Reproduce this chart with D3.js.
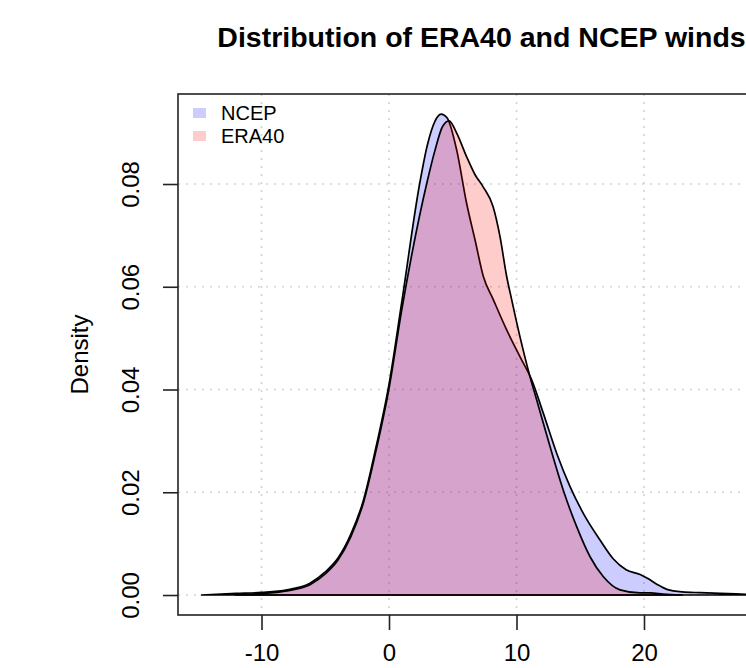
<!DOCTYPE html>
<html>
<head>
<meta charset="utf-8">
<script src="https://cdn.jsdelivr.net/npm/d3@7/dist/d3.min.js"></script>
<style>
  html, body { margin: 0; padding: 0; background: #fff; overflow: hidden; }
  svg { display: block; }
</style>
</head>
<body>
<div id="chart"></div>
<script>
// Density curves of ERA40 vs NCEP winds.
const NCEP_X = [-14.7, -12, -10, -8, -6.2, -5, -4, -3, -2, -1.0, 0, 1.0, 2.4, 3.0, 3.6, 4.08, 4.55,
  5.31, 6.09, 6.75, 7.4, 8.18, 9.23, 10.27, 11.19, 12.1, 13.15, 14.2, 15.24, 16.55, 17.6, 18.6, 19.7, 20.3, 21.0, 21.8,
  23.0, 24.4, 26, 28, 30];
const NCEP_D = [0, 0.0003, 0.0005, 0.001, 0.0023, 0.0045, 0.0072, 0.0118, 0.0185, 0.029, 0.041, 0.057, 0.08,
  0.0875, 0.0922, 0.0936, 0.0929, 0.0866, 0.0762, 0.0691, 0.062, 0.0575, 0.0516, 0.0464, 0.0419, 0.0354, 0.0276, 0.0211,
  0.0159, 0.0107, 0.007, 0.0049, 0.004, 0.0032, 0.0021, 0.0011, 0.0006, 0.00045, 0.0003, 0.00015, 0];

const ERA_X = [-12, -10, -8, -6.2, -5, -4, -3, -2, -1.0, 0, 1.0, 2.95, 3.6, 4.2, 4.71, 5.31, 6.09,
  6.75, 7.37, 8.16, 8.71, 9.23, 9.62, 10.27, 11.06, 11.58, 12.63, 13.67, 14.72, 15.76, 16.8, 18.12, 19.7, 20.5, 21.5, 23];
const ERA_D = [0, 0.0003, 0.0008, 0.002, 0.0041, 0.0068, 0.0113, 0.018, 0.0283, 0.0402, 0.0555, 0.08, 0.0865,
  0.0912, 0.0923, 0.0899, 0.0853, 0.0818, 0.0795, 0.0756, 0.0697, 0.062, 0.0575, 0.0503, 0.0425, 0.038, 0.0289, 0.0204,
  0.0133, 0.0075, 0.0036, 0.001, 0.0004, 0.0004, 0.0002, 0];

const X_TICKS = [-10, 0, 10, 20];
const Y_TICKS = [0, 0.02, 0.04, 0.06, 0.08];
const LEGEND_LABELS = ['NCEP', 'ERA40'];

const W = 746, H = 668;
const BOX = { left: 178, right: 785, top: 94, bottom: 615 };
const FONT = 'Liberation Sans, Arial, Helvetica, sans-serif';
const BLUE_FILL = 'rgba(0,0,255,0.2)';
const RED_FILL = 'rgba(255,0,0,0.2)';

const svg = d3.select('#chart').append('svg')
  .attr('width', W).attr('height', H)
  .attr('viewBox', `0 0 ${W} ${H}`);

const x = d3.scaleLinear().domain([-16.55, 31.06]).range([BOX.left, BOX.right]);
const y = d3.scaleLinear().domain([-0.00389, 0.09752]).range([BOX.bottom, BOX.top]);

// dotted grid
const grid = svg.append('g').attr('stroke', '#d3d3d3').attr('stroke-width', 1.6)
  .attr('stroke-dasharray', '2,6');
grid.selectAll('line.v').data(X_TICKS).join('line').attr('class', 'v')
  .attr('x1', d => x(d)).attr('x2', d => x(d)).attr('y1', BOX.top).attr('y2', BOX.bottom);
grid.selectAll('line.h').data(Y_TICKS).join('line').attr('class', 'h')
  .attr('x1', BOX.left).attr('x2', BOX.right).attr('y1', d => y(d)).attr('y2', d => y(d));

const area = d3.area()
  .x(d => x(d[0])).y0(y(0)).y1(d => y(d[1]))
  .curve(d3.curveMonotoneX);
const line = d3.line()
  .x(d => x(d[0])).y(d => y(d[1]))
  .curve(d3.curveMonotoneX);

function drawDensity(xs, ds, fill) {
  const pts = xs.map((v, i) => [v, ds[i]]);
  svg.append('path').datum(pts).attr('d', area).attr('fill', fill).attr('stroke', 'none');
  // outline closes back along the zero line, like a polygon border
  svg.append('path').attr('d', line(pts) + 'Z')
    .attr('fill', 'none').attr('stroke', '#000').attr('stroke-width', 1.7)
    .attr('stroke-linejoin', 'round');
}
drawDensity(NCEP_X, NCEP_D, BLUE_FILL);
drawDensity(ERA_X, ERA_D, RED_FILL);

// box
svg.append('rect')
  .attr('x', BOX.left).attr('y', BOX.top)
  .attr('width', BOX.right - BOX.left).attr('height', BOX.bottom - BOX.top)
  .attr('fill', 'none').attr('stroke', '#222').attr('stroke-width', 1.6);

// axes
const xAxis = svg.append('g').attr('transform', `translate(0,${BOX.bottom})`)
  .call(d3.axisBottom(x).tickValues(X_TICKS).tickSize(15).tickPadding(14).tickFormat(d => String(d)));
const yAxis = svg.append('g').attr('transform', `translate(${BOX.left},0)`)
  .call(d3.axisLeft(y).tickValues(Y_TICKS).tickSize(15).tickFormat(d3.format('.2f')));
[xAxis, yAxis].forEach(g => {
  g.select('.domain').remove();
  g.selectAll('.tick line').attr('stroke', '#222').attr('stroke-width', 1.6);
  g.selectAll('.tick text').attr('font-family', FONT).attr('font-size', 24).attr('fill', '#000');
});
yAxis.selectAll('.tick text')
  .attr('x', 0).attr('dy', 0)
  .attr('text-anchor', 'middle')
  .attr('transform', 'translate(-39,0) rotate(-90)');

// labels
svg.append('text').attr('x', (BOX.left + BOX.right) / 2).attr('y', 47)
  .attr('text-anchor', 'middle').attr('font-family', FONT).attr('font-weight', 'bold')
  .attr('font-size', 28.5).text('Distribution of ERA40 and NCEP winds');
svg.append('text').attr('transform', `translate(88,${(BOX.top + BOX.bottom) / 2}) rotate(-90)`)
  .attr('text-anchor', 'middle').attr('font-family', FONT).attr('font-size', 24).text('Density');

// legend
const legend = svg.append('g').attr('transform', 'translate(193,107)');
[BLUE_FILL, RED_FILL].forEach((c, i) => {
  const row = legend.append('g').attr('transform', `translate(0,${i * 23})`);
  row.append('rect').attr('x', 0).attr('y', 1).attr('width', 13).attr('height', 10).attr('fill', c);
  row.append('text').attr('x', 28).attr('y', 13).attr('font-family', FONT).attr('font-size', 20)
    .text(LEGEND_LABELS[i]);
});
</script>
</body>
</html>
